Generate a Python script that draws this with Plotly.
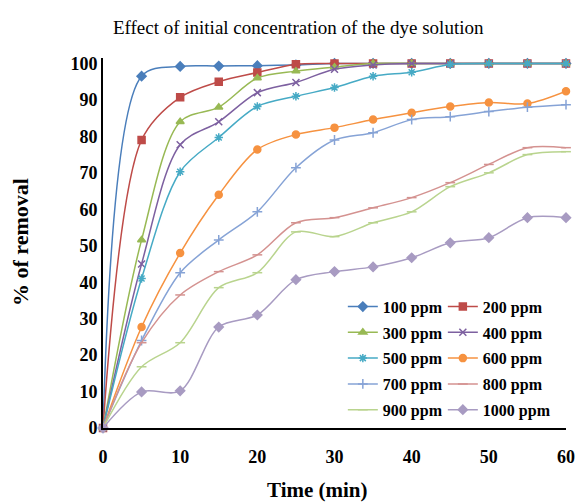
import plotly.graph_objects as go

time_min = [0, 5, 10, 15, 20, 25, 30, 35, 40, 45, 50, 55, 60]

ppm_100 = [0, 96.5, 99.2, 99.3, 99.4, 99.6, 100, 100, 100, 100, 100, 100, 100]
ppm_200 = [0, 79, 90.7, 95, 97.5, 99.8, 100, 100, 100, 100, 100, 100, 100]
ppm_300 = [0, 51.6, 84, 88, 96, 97.9, 99, 100, 100, 100, 100, 100, 100]
ppm_400 = [0, 45, 77.7, 84, 92, 94.8, 98.4, 99.6, 100, 100, 100, 100, 100]
ppm_500 = [0, 41, 70.3, 79.7, 88.2, 91, 93.4, 96.5, 97.6, 99.7, 100, 100, 100]
ppm_600 = [0, 27.7, 48, 64, 76.4, 80.5, 82.4, 84.6, 86.5, 88.2, 89.3, 89, 92.4]
ppm_700 = [0, 24, 42.6, 51.6, 59.3, 71.4, 79, 81, 84.6, 85.4, 86.8, 88, 88.7]
ppm_800 = [0, 23.4, 36.5, 42.9, 47.5, 56.3, 57.7, 60.4, 63.2, 67.3, 72.3, 76.9, 76.9]
ppm_900 = [0, 16.8, 23.4, 38.5, 42.6, 53.8, 52.5, 56.3, 59.3, 66.2, 70, 75, 75.8]
ppm_1000 = [0, 9.9, 10.2, 27.7, 31, 40.7, 42.9, 44.2, 46.7, 50.8, 52.2, 57.7, 57.7]

series_names = ["100 ppm", "200 ppm", "300 ppm", "400 ppm", "500 ppm",
                "600 ppm", "700 ppm", "800 ppm", "900 ppm", "1000 ppm"]
series_values = [ppm_100, ppm_200, ppm_300, ppm_400, ppm_500,
                 ppm_600, ppm_700, ppm_800, ppm_900, ppm_1000]
colors = ["#4A7EBB", "#BE4B48", "#98B954", "#7D60A0", "#46AAC5",
          "#F69240", "#86A3D6", "#D49290", "#B9D48E", "#A89BC2"]
symbols = ["diamond", "square", "triangle-up", "x-thin", "asterisk",
           "circle", "cross-thin", "line-ew", "line-ew", "diamond"]

serif = "Liberation Serif"

fig = go.Figure()
for i, (name, vals) in enumerate(zip(series_names, series_values)):
    fig.add_trace(go.Scatter(
        x=time_min, y=vals, name=name,
        mode="lines+markers",
        line=dict(color=colors[i], width=1.5, shape="spline", smoothing=0.9),
        marker=dict(symbol=symbols[i], size=7, color=colors[i],
                    line=dict(color=colors[i], width=1.5)),
        cliponaxis=False,
        legend="legend" if i % 2 == 0 else "legend2",
        legendgroup=name,
    ))

legend_common = dict(
    font=dict(family=serif, size=16, color="black", weight="bold"),
    bgcolor="rgba(255,255,255,0)",
    tracegroupgap=2,
    yanchor="top", xanchor="left",
    itemwidth=30,
)

fig.update_layout(
    width=579, height=502,
    margin=dict(l=103, r=13, t=58, b=74),
    paper_bgcolor="white", plot_bgcolor="white",
    title=dict(text="Effect of initial concentration of the dye solution",
               font=dict(family=serif, size=19, color="black"),
               x=0.515, xanchor="center", y=0.945, yanchor="middle"),
    xaxis=dict(range=[0, 60], tickvals=[0, 10, 20, 30, 40, 50, 60],
               showgrid=False, zeroline=False, showline=True, automargin=False,
               linecolor="black", linewidth=2, ticks="", ticklabelstandoff=11,
               tickfont=dict(family=serif, size=18, color="black", weight="bold")),
    yaxis=dict(range=[0, 101.5], tickvals=[0, 10, 20, 30, 40, 50, 60, 70, 80, 90, 100],
               showgrid=False, zeroline=False, showline=True, automargin=False,
               linecolor="black", linewidth=2, ticks="",
               tickfont=dict(family=serif, size=18, color="black", weight="bold")),
    legend=dict(x=0.518, y=0.374, **legend_common),
    legend2=dict(x=0.734, y=0.374, **legend_common),
    annotations=[
        dict(text="Time (min)", xref="paper", yref="paper",
             x=(317 - 103) / 463, y=-(490 - 428) / 370,
             xanchor="center", yanchor="middle", showarrow=False,
             font=dict(family=serif, size=21, color="black", weight="bold")),
        dict(text="% of removal", xref="paper", yref="paper",
             x=-(103 - 20) / 463, y=(428 - 242) / 370, textangle=-90,
             xanchor="center", yanchor="middle", showarrow=False,
             font=dict(family=serif, size=22, color="black", weight="bold")),
    ],
)

fig.write_html("out.html", config={"displayModeBar": False},
               post_script="document.body.style.margin='0px';")
